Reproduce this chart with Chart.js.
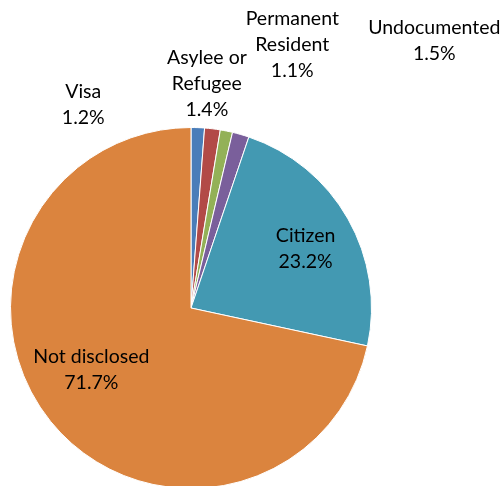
<!DOCTYPE html>
<html>
<head>
<meta charset="utf-8">
<script src="https://cdn.jsdelivr.net/npm/chart.js@4/dist/chart.umd.min.js"></script>
<style>
  html, body { margin: 0; padding: 0; background: #fff; overflow: hidden; }
  #wrap { position: absolute; left: 0; top: 0; width: 504px; height: 489px; }
</style>
</head>
<body>
<div id="wrap"><canvas id="c"></canvas></div>
<script>
const categories = ["Visa", "Asylee or Refugee", "Permanent Resident", "Undocumented", "Citizen", "Not disclosed"];
const values = [1.2, 1.4, 1.1, 1.5, 23.2, 71.7];
const labelLines = [["Visa"], ["Asylee or", "Refugee"], ["Permanent", "Resident"], ["Undocumented"], ["Citizen"], ["Not disclosed"]];
const colors = ["#4A7DB9", "#B24A47", "#93B157", "#7A5F9B", "#4399B2", "#DB843E"];
// label anchor offsets as fractions of the pie radius from its centre (layout only)
const labelOffsets = [[-0.597, -1.127], [0.088, -1.243], [0.561, -1.459], [1.348, -1.483], [0.635, -0.331], [-0.552, 0.343]];

const labelPlugin = {
  id: 'pieLabels',
  afterDatasetsDraw(chart) {
    const ctx = chart.ctx;
    const meta = chart.getDatasetMeta(0);
    ctx.save();
    ctx.font = '19.5px Lato, "Open Sans", sans-serif';
    ctx.fillStyle = '#000';
    ctx.textAlign = 'center';
    ctx.textBaseline = 'middle';
    const lh = 26;
    meta.data.forEach((arc, i) => {
      const cx = arc.x, cy = arc.y, r = arc.outerRadius;
      const lines = labelLines[i].concat([values[i].toFixed(1) + '%']);
      const px = cx + labelOffsets[i][0] * r;
      const py = cy + labelOffsets[i][1] * r;
      const y0 = py - (lines.length - 1) * lh / 2;
      lines.forEach((t, k) => ctx.fillText(t, px, y0 + k * lh));
    });
    ctx.restore();
  }
};

new Chart(document.getElementById('c'), {
  type: 'pie',
  data: {
    labels: categories,
    datasets: [{
      data: values,
      backgroundColor: colors,
      borderColor: '#ffffff',
      borderWidth: 1
    }]
  },
  options: {
    responsive: true,
    maintainAspectRatio: false,
    animation: false,
    layout: { padding: { left: 10, right: 132, top: 127, bottom: 0 } },
    plugins: { legend: { display: false }, tooltip: { enabled: false } }
  },
  plugins: [labelPlugin]
});
</script>
</body>
</html>
